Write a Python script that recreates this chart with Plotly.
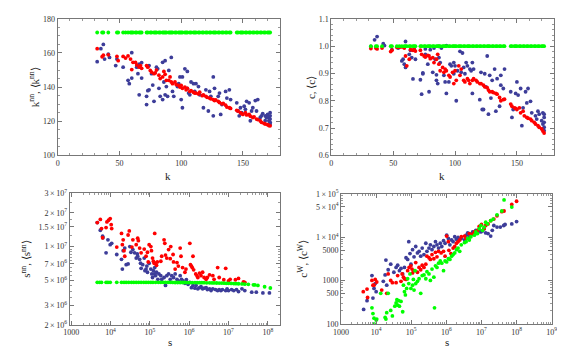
import plotly.graph_objects as go
import numpy as np

# distinct degrees (top panels)
K = [32, 36, 37, 41, 48, 49, 53, 55, 57, 59,
     60, 61, 63, 64, 66, 67, 68, 72, 73, 75,
     76, 78, 79, 80, 82, 83, 85, 86, 87, 88,
     90, 91, 92, 93, 95, 96, 98, 99, 100, 101,
     103, 104, 105, 107, 108, 110, 111, 112, 114, 115,
     117, 118, 120, 121, 123, 124, 126, 127, 128, 130,
     131, 133, 134, 136, 137, 139, 140, 145, 146, 148,
     149, 150, 152, 153, 155, 156, 158, 159, 161, 162,
     164, 165, 167, 168, 170, 171, 172]

KNN_AVG = [162.5, 157.8, 158.7, 158.9, 158.0, 155.5, 158.0, 157.0, 158.3, 156.4,
           150.3, 154.5, 154.5, 153.0, 151.7, 152.6, 151.0, 152.6, 151.7, 149.8,
           148.8, 147.9, 148.3, 150.0, 147.0, 145.0, 146.0, 149.2, 147.5, 144.0,
           144.0, 146.0, 143.0, 142.0, 143.0, 141.5, 141.0, 140.0, 141.0, 139.3,
           140.0, 138.4, 139.3, 137.5, 138.0, 137.0, 136.5, 136.5, 136.0, 137.0,
           135.0, 135.5, 134.6, 134.0, 133.6, 133.2, 132.7, 132.1, 132.5, 131.7,
           131.0, 130.2, 130.5, 129.4, 128.3, 127.9, 127.5, 126.4, 126.0, 125.0,
           124.5, 124.0, 125.0, 123.7, 124.0, 123.0, 122.2, 122.6, 121.3, 121.0,
           120.3, 119.4, 118.8, 118.4, 118.0, 117.5, 117.3]
KNN_RAND = 172.0

C_AVG = [0.991, 0.993, 0.990, 0.993, 0.980, 0.985, 0.996, 0.996, 0.997, 0.993,
         0.964, 0.928, 0.952, 0.987, 0.985, 0.987, 0.982, 0.985, 0.970, 0.964,
         0.960, 0.966, 0.964, 0.954, 0.958, 0.940, 0.952, 0.970, 0.934, 0.910,
         0.922, 0.904, 0.916, 0.910, 0.893, 0.887, 0.904, 0.863, 0.910, 0.875,
         0.928, 0.893, 0.916, 0.875, 0.869, 0.881, 0.875, 0.863, 0.875, 0.881,
         0.875, 0.869, 0.863, 0.863, 0.857, 0.851, 0.848, 0.839, 0.833, 0.833,
         0.830, 0.827, 0.824, 0.812, 0.800, 0.804, 0.806, 0.788, 0.780, 0.774,
         0.772, 0.768, 0.774, 0.756, 0.762, 0.745, 0.739, 0.736, 0.733, 0.727,
         0.721, 0.715, 0.709, 0.703, 0.697, 0.689, 0.682]
C_RAND = 1.0

# per-node values (k, knn)
KNN_NODES = [(32, 154.9), (35, 162.5), (37, 165.0), (38, 156.4), (41, 159.3), (42, 157.4),
             (47, 152.6), (48, 156.4), (53, 151.7), (57, 144.0), (58, 142.0), (60, 160.2),
             (60, 145.3), (64, 151.7), (65, 147.9), (66, 135.5), (66, 153.4), (68, 145.3),
             (68, 154.3), (72, 134.6), (72, 129.8), (73, 137.9), (74, 138.4), (74, 152.6),
             (76, 147.9), (77, 141.2), (78, 131.7), (80, 151.7), (81, 150.7), (82, 139.3),
             (83, 134.6), (85, 132.7), (85, 154.5), (86, 143.0), (87, 135.5), (87, 155.5),
             (88, 140.3), (89, 134.6), (90, 149.8), (92, 157.4), (93, 137.5), (94, 134.6),
             (97, 140.3), (98, 142.0), (99, 146.0), (100, 132.7), (101, 127.9), (101, 146.0),
             (103, 150.7), (105, 149.2), (105, 139.3), (106, 136.5), (107, 135.5), (108, 143.0),
             (110, 142.0), (111, 137.5), (112, 142.0), (114, 140.3), (115, 135.5), (118, 127.9),
             (120, 138.4), (122, 126.0), (123, 137.5), (124, 134.6), (126, 146.0), (126, 123.2),
             (127, 139.3), (130, 134.6), (131, 136.5), (132, 124.0), (133, 129.8), (136, 137.5),
             (137, 133.6), (139, 138.4), (140, 132.7), (145, 130.8), (146, 126.0), (147, 123.2),
             (148, 127.9), (149, 125.0), (151, 128.8), (152, 127.0), (153, 131.7), (155, 130.8),
             (156, 120.3), (157, 126.0), (158, 127.9), (160, 132.1), (161, 126.0), (162, 132.7),
             (164, 122.2), (165, 123.2), (166, 124.5), (168, 123.2), (168, 120.3), (169, 122.2),
             (170, 124.0), (171, 122.2), (172, 125.0), (172, 123.2), (172, 121.3), (172, 119.4),
             (172, 118.4), (171, 120.3)]

C_NODES = [(32, 0.999), (35, 1.023), (37, 1.035), (42, 1.009), (43, 1.002), (49, 0.987),
           (54, 0.993), (60, 1.017), (58, 0.952), (59, 0.934), (60, 0.922), (57, 0.946),
           (63, 0.970), (64, 0.985), (65, 0.958), (66, 0.880), (67, 0.990), (68, 0.952),
           (72, 0.877), (73, 0.824), (74, 0.899), (74, 0.902), (76, 0.970), (76, 0.990),
           (78, 0.934), (79, 0.833), (80, 0.987), (82, 0.904), (83, 0.993), (84, 0.952),
           (85, 0.895), (85, 0.875), (86, 0.863), (87, 0.999), (87, 0.958), (88, 0.940),
           (89, 0.993), (91, 0.893), (92, 0.869), (93, 0.827), (93, 1.002), (95, 0.869),
           (96, 0.934), (97, 0.928), (99, 0.940), (99, 0.899), (100, 0.928), (101, 0.800),
           (102, 0.910), (104, 0.981), (105, 0.904), (106, 0.975), (107, 0.922), (108, 0.899),
           (109, 0.940), (110, 0.928), (112, 0.916), (113, 0.910), (114, 0.827), (114, 0.940),
           (115, 0.916), (120, 0.804), (121, 0.904), (122, 0.768), (123, 0.768), (124, 0.899),
           (125, 0.851), (126, 0.964), (127, 0.751), (128, 0.893), (129, 0.810), (130, 0.875),
           (132, 0.916), (133, 0.762), (134, 0.881), (136, 0.780), (137, 0.893), (137, 0.857),
           (139, 0.845), (140, 0.916), (145, 0.833), (146, 0.739), (147, 0.768), (149, 0.827),
           (150, 0.869), (151, 0.821), (153, 0.845), (154, 0.709), (155, 0.774), (157, 0.833),
           (158, 0.792), (159, 0.845), (161, 0.798), (162, 0.756), (165, 0.745), (166, 0.733),
           (167, 0.762), (168, 0.751), (170, 0.727), (171, 0.756), (171, 0.715), (172, 0.739),
           (172, 0.703), (172, 0.691), (172, 0.721), (172, 0.751), (171, 0.697)]

# bottom-left: s vs s^nn
SNN_RAND = [(4.6e3, 4.8e6), (5.3e3, 4.8e6), (5.9e3, 4.8e6), (7.7e3, 4.8e6), (8.6e3, 4.8e6),
            (9.8e3, 4.8e6), (1.44e4, 4.8e6), (1.9e4, 4.8e6), (2.2e4, 4.8e6), (2.5e4, 4.8e6),
            (2.9e4, 4.8e6), (3.4e4, 4.8e6), (3.9e4, 4.8e6), (4.5e4, 4.8e6), (5.2e4, 4.8e6),
            (6.0e4, 4.8e6), (7.0e4, 4.8e6), (8.0e4, 4.8e6), (9.2e4, 4.8e6), (1.06e5, 4.8e6),
            (1.2e5, 4.8e6), (1.4e5, 4.8e6), (1.65e5, 4.8e6), (1.9e5, 4.8e6), (2.2e5, 4.8e6),
            (2.5e5, 4.8e6), (2.9e5, 4.8e6), (3.3e5, 4.8e6), (3.8e5, 4.79e6), (4.4e5, 4.78e6),
            (5.1e5, 4.78e6), (5.9e5, 4.78e6), (6.8e5, 4.78e6), (7.8e5, 4.78e6), (9.0e5, 4.77e6),
            (1.04e6, 4.77e6), (1.2e6, 4.77e6), (1.4e6, 4.77e6), (1.6e6, 4.76e6), (1.84e6, 4.76e6),
            (2.1e6, 4.76e6), (2.4e6, 4.76e6), (2.8e6, 4.75e6), (3.3e6, 4.75e6), (3.8e6, 4.74e6),
            (4.3e6, 4.74e6), (5.0e6, 4.73e6), (5.8e6, 4.72e6), (6.7e6, 4.72e6), (7.7e6, 4.71e6),
            (8.8e6, 4.7e6), (1.0e7, 4.7e6), (1.17e7, 4.69e6), (1.36e7, 4.68e6), (1.55e7, 4.67e6),
            (1.8e7, 4.66e6), (2.2e7, 4.64e6), (2.6e7, 4.62e6), (3.2e7, 4.6e6), (4.3e7, 4.56e6),
            (4.7e7, 4.55e6), (5.6e7, 4.5e6), (8.3e7, 4.38e6), (1.16e8, 4.27e6)]

SNN_AVG = [(4.6e3, 1.64e7), (5.5e3, 1.75e7), (5.9e3, 1.45e7), (6.3e3, 1.2e7), (7.7e3, 1.48e7),
           (8.1e3, 1.66e7), (8.9e3, 1.72e7), (9.8e3, 1.78e7), (1.07e4, 1.45e7), (1.04e4, 1.57e7),
           (1.44e4, 9.9e6), (1.9e4, 1.31e7), (2.0e4, 1.04e7), (2.1e4, 1.15e7), (2.2e4, 9.2e6),
           (2.3e4, 8.2e6), (2.8e4, 1.27e7), (3.0e4, 1.38e7), (3.5e4, 9.9e6), (3.7e4, 1.15e7),
           (4.5e4, 1.04e7), (4.9e4, 1.19e7), (5.1e4, 1.13e7), (5.5e4, 9.7e6), (6.0e4, 8.8e6),
           (7.2e4, 9.5e6), (8.0e4, 8.2e6), (8.7e4, 8.9e6), (9.1e4, 7.3e6), (9.6e4, 1.04e7),
           (1.06e5, 1.0e7), (1.1e5, 9.2e6), (1.17e5, 7.9e6), (1.23e5, 7.4e6), (1.29e5, 7.1e6),
           (1.33e5, 1.31e7), (1.4e5, 7.1e6), (1.48e5, 6.8e6), (1.55e5, 7.3e6), (1.9e5, 7.4e6),
           (2.0e5, 8.2e6), (2.3e5, 1.15e7), (2.4e5, 1.07e7), (2.5e5, 8.4e6), (2.7e5, 7.9e6),
           (3.0e5, 9.4e6), (3.3e5, 7.8e6), (3.4e5, 1.0e7), (3.9e5, 8.5e6), (4.0e5, 7.3e6),
           (4.4e5, 6.3e6), (4.9e5, 7.2e6), (5.3e5, 6.7e6), (5.9e5, 9.7e6), (6.2e5, 8.2e6),
           (6.8e5, 6.5e6), (7.8e5, 5.9e6), (8.3e5, 6.3e6), (1.04e6, 1.07e7), (1.08e6, 6.9e6),
           (1.14e6, 6.7e6), (1.2e6, 6.5e6), (1.25e6, 8.2e6), (1.3e6, 6.2e6), (1.47e6, 5.7e6),
           (1.58e6, 5.5e6), (1.66e6, 5.3e6), (1.84e6, 5.8e6), (2.0e6, 5.5e6), (2.2e6, 5.9e6),
           (2.4e6, 5.3e6), (2.7e6, 5.1e6), (2.9e6, 5.3e6), (3.3e6, 5.6e6), (4.0e6, 5.5e6),
           (4.3e6, 5.1e6), (5.3e6, 6.5e6), (5.8e6, 5.3e6), (8.5e6, 6.4e6), (7.6e6, 5.06e6),
           (1.0e7, 4.95e6), (1.1e7, 5.1e6), (1.5e7, 5.06e6), (1.8e7, 5.2e6), (2.4e7, 4.85e6),
           (2.6e7, 4.8e6)]

SNN_NODES = [(4.6e3, 1.64e7), (5.5e3, 1.40e7), (6.3e3, 1.24e7), (6.4e3, 1.2e7), (7.7e3, 8.8e6),
             (8.6e3, 1.15e7), (9.8e3, 1.04e7), (1.07e4, 1.07e7), (1.44e4, 8.5e6), (1.9e4, 7.7e6),
             (2.0e4, 6.3e6), (2.1e4, 9.2e6), (2.3e4, 9.7e6), (2.5e4, 6.9e6), (2.8e4, 7.0e6),
             (3.1e4, 1.0e7), (3.3e4, 8.9e6), (3.7e4, 9.4e6), (4.1e4, 8.8e6), (4.5e4, 7.9e6),
             (4.8e4, 8.6e6), (4.9e4, 8.2e6), (5.5e4, 7.7e6), (5.8e4, 7.1e6), (6.0e4, 6.4e6),
             (6.6e4, 6.9e6), (7.2e4, 7.9e6), (7.5e4, 6.1e6), (8.0e4, 6.3e6), (8.4e4, 6.7e6),
             (8.7e4, 5.9e6), (9.6e4, 7.1e6), (1.06e5, 6.3e6), (1.12e5, 5.7e6), (1.17e5, 5.3e6),
             (1.23e5, 6.1e6), (1.29e5, 5.7e6), (1.33e5, 6.5e6), (1.4e5, 5.5e6), (1.48e5, 5.9e6),
             (1.6e5, 5.1e6), (1.7e5, 5.7e6), (1.9e5, 5.5e6), (2.0e5, 5.1e6), (2.3e5, 5.3e6),
             (2.5e5, 4.5e6), (2.7e5, 5.5e6), (3.0e5, 5.7e6), (3.3e5, 5.1e6), (3.6e5, 5.5e6),
             (4.0e5, 5.3e6), (4.4e5, 5.7e6), (4.9e5, 5.1e6), (5.3e5, 4.95e6), (5.9e5, 5.5e6),
             (6.4e5, 5.1e6), (7.0e5, 4.95e6), (7.8e5, 4.7e6), (8.5e5, 5.06e6), (9.4e5, 4.6e6),
             (1.04e6, 4.8e6), (1.14e6, 4.3e6), (1.25e6, 4.5e6), (1.4e6, 4.25e6), (1.5e6, 4.5e6),
             (1.66e6, 4.2e6), (1.84e6, 4.3e6), (2.0e6, 4.4e6), (2.2e6, 4.2e6), (2.4e6, 4.25e6),
             (2.7e6, 4.3e6), (2.9e6, 4.13e6), (3.3e6, 4.2e6), (3.6e6, 4.05e6), (4.0e6, 4.2e6),
             (4.7e6, 4.13e6), (5.3e6, 4.05e6), (5.8e6, 4.13e6), (6.4e6, 4.05e6), (7.0e6, 4.13e6),
             (8.5e6, 4.05e6), (9.2e6, 4.2e6), (1.0e7, 4.05e6), (1.2e7, 4.13e6), (1.36e7, 4.05e6),
             (1.6e7, 4.13e6), (1.8e7, 3.97e6), (2.2e7, 4.2e6), (2.6e7, 4.05e6), (3.9e7, 3.92e6),
             (5.1e7, 3.92e6), (7.5e7, 3.86e6), (1.1e8, 3.86e6)]

# bottom-right: s vs c^W
CW_NODES = [(4.4e3, 216), (7.6e3, 1306), (8.7e3, 657), (9.4e3, 851), (1.0e4, 555), (8.1e3, 394),
            (5.5e3, 343), (1.6e4, 960), (1.8e4, 1352), (1.9e4, 2976), (2.0e4, 781), (2.2e4, 1778),
            (2.6e4, 2382), (3.2e4, 1553), (3.7e4, 2005), (4.1e4, 2258), (4.6e4, 1692), (5.1e4, 1905),
            (5.7e4, 1422), (6.4e4, 2005), (7.1e4, 3357), (7.9e4, 3076), (8.5e4, 7906), (9.2e4, 4191),
            (9.8e4, 2382), (1.09e5, 5150), (1.2e5, 3532), (1.34e5, 6106), (1.5e5, 4339), (1.67e5, 4732),
            (1.86e5, 3656), (2.05e5, 5610), (2.3e5, 3981), (2.6e5, 7263), (2.8e5, 4732), (3.2e5, 5610),
            (3.5e5, 6668), (3.9e5, 5150), (4.4e5, 6106), (4.9e5, 7906), (5.4e5, 6668), (6.0e5, 5610),
            (6.7e5, 7263), (7.4e5, 6106), (8.3e5, 8318), (9.2e5, 7263), (1.02e6, 11143), (1.14e6, 9376),
            (1.26e6, 6668), (1.41e6, 8610), (1.56e6, 7906), (1.73e6, 10233), (1.94e6, 8913),
            (2.15e6, 9886), (2.66e6, 9376), (3.3e6, 8610), (3.65e6, 11143), (4.05e6, 12566),
            (4.5e6, 10233), (5.0e6, 11722), (5.6e6, 13213), (6.3e6, 12131), (6.9e6, 14421),
            (7.7e6, 12566), (8.6e6, 14894), (9.6e6, 13213), (1.07e7, 13930), (1.19e7, 15703),
            (1.32e7, 12566), (1.54e7, 12131), (1.83e7, 10593), (2.03e7, 14421), (2.25e7, 18621),
            (2.77e7, 17100), (3.44e7, 17100), (4.3e7, 18621), (4.7e7, 19634), (7.3e7, 20270),
            (1.0e8, 22900)]

CW_AVG = [(4.3e3, 555), (5.5e3, 635), (5.7e3, 407), (7.6e3, 1009), (8.1e3, 781), (8.7e3, 781),
          (9.4e3, 1064), (1.04e4, 927), (1.44e4, 604), (2.0e4, 509), (2.2e4, 1422), (2.6e4, 1009),
          (2.9e4, 896), (3.7e4, 896), (4.1e4, 1306), (5.1e4, 960), (5.5e4, 1422), (6.0e4, 1199),
          (6.4e4, 1102), (7.1e4, 1064), (7.9e4, 1692), (8.7e4, 2005), (9.8e4, 2188), (1.05e5, 1841),
          (1.09e5, 1500), (1.2e5, 1692), (1.34e5, 2594), (1.5e5, 1553), (1.67e5, 2005), (1.86e5, 1778),
          (2.05e5, 2258), (2.3e5, 2005), (2.6e5, 2382), (2.8e5, 3656), (3.2e5, 3357), (3.5e5, 3076),
          (3.9e5, 3981), (4.4e5, 3184), (4.9e5, 4487), (5.4e5, 3532), (6.0e5, 4732), (7.1e5, 4339),
          (8.3e5, 4732), (9.2e5, 3656), (1.02e6, 10593), (1.14e6, 7906), (1.18e6, 4977),
          (1.35e6, 4191), (1.56e6, 5610), (1.73e6, 6106), (1.94e6, 7263), (2.15e6, 7906),
          (2.4e6, 8610), (2.66e6, 10233), (3.3e6, 10593), (3.65e6, 9376), (4.5e6, 12131),
          (5.6e6, 11722), (6.3e6, 13213), (7.7e6, 14421), (8.6e6, 17700), (1.0e7, 19634),
          (1.19e7, 15703), (1.32e7, 18621), (1.54e7, 20270), (1.83e7, 24100), (2.25e7, 26240),
          (2.77e7, 31200), (3.8e7, 38900), (4.4e7, 40270), (7.3e7, 56800), (1.0e8, 67500)]

CW_RAND = [(7.6e3, 235), (8.1e3, 173), (8.7e3, 136), (8.8e3, 100), (1.0e4, 123), (1.04e4, 129),
           (1.35e4, 509), (1.8e4, 141), (1.9e4, 129), (2.0e4, 182), (2.2e4, 509), (2.6e4, 205),
           (2.9e4, 153), (3.4e4, 256), (3.7e4, 304), (3.9e4, 361), (4.1e4, 270), (4.4e4, 343),
           (4.6e4, 256), (5.1e4, 331), (5.7e4, 191), (6.0e4, 781), (6.4e4, 555), (6.8e4, 467),
           (7.4e4, 657), (7.9e4, 1102), (8.5e4, 851), (9.2e4, 1422), (9.8e4, 657), (1.09e5, 781),
           (1.15e5, 1064), (1.2e5, 604), (1.29e5, 1692), (1.34e5, 851), (1.5e5, 960), (1.67e5, 1102),
           (1.86e5, 509), (2.05e5, 1306), (2.3e5, 1352), (2.6e5, 1102), (2.8e5, 1607), (3.2e5, 1422),
           (3.5e5, 1009), (3.9e5, 1841), (4.4e5, 1199), (4.6e5, 235), (4.9e5, 2188), (5.4e5, 2005),
           (6.0e5, 2512), (6.7e5, 2825), (7.4e5, 2512), (8.3e5, 1692), (9.2e5, 2825), (1.02e6, 2685),
           (1.14e6, 3184), (1.26e6, 3076), (1.41e6, 3656), (1.56e6, 3981), (1.73e6, 4335),
           (1.94e6, 5150), (2.15e6, 5610), (2.4e6, 4732), (2.66e6, 6668), (3.3e6, 7516),
           (3.65e6, 7906), (4.05e6, 9376), (4.5e6, 8610), (5.0e6, 10233), (6.3e6, 11143),
           (6.9e6, 13213), (7.7e6, 12131), (8.6e6, 15703), (9.6e6, 18621), (1.07e7, 14421),
           (1.19e7, 17100), (1.32e7, 22130), (1.48e7, 20270), (1.83e7, 24100), (2.15e7, 26240),
           (2.77e7, 32810), (3.8e7, 40270), (4.4e7, 72300), (7.3e7, 49500)]

BLUE = 'rgb(61,61,153)'
RED = 'rgb(255,0,0)'
GREEN = 'rgb(0,255,0)'
FONT = 'Liberation Serif'
W, H = 565, 349


def pts(pairs):
    return [p[0] for p in pairs], [p[1] for p in pairs]


def dom(a, b, total, flip=False):
    if flip:
        return [1 - b / total, 1 - a / total]
    return [a / total, b / total]


def sup(m, e):
    return '%s\u2009\u00d7\u200910<sup>%d</sup>' % (m, e)


fig = go.Figure()


def add(x, y, color, xa, ya):
    fig.add_trace(go.Scatter(x=x, y=y, mode='markers', xaxis=xa, yaxis=ya,
                             marker=dict(color=color, size=3.8, line=dict(width=0)),
                             hoverinfo='skip', showlegend=False))


# top left
add(*pts(KNN_NODES), BLUE, 'x', 'y')
add(K, KNN_AVG, RED, 'x', 'y')
add(K, [KNN_RAND] * len(K), GREEN, 'x', 'y')
# top right
add(*pts(C_NODES), BLUE, 'x2', 'y2')
add(K, C_AVG, RED, 'x2', 'y2')
add(K, [C_RAND] * len(K), GREEN, 'x2', 'y2')
# bottom left
add(*pts(SNN_NODES), BLUE, 'x3', 'y3')
add(*pts(SNN_AVG), RED, 'x3', 'y3')
add(*pts(SNN_RAND), GREEN, 'x3', 'y3')
# bottom right
add(*pts(CW_NODES), BLUE, 'x4', 'y4')
add(*pts(CW_AVG), RED, 'x4', 'y4')
add(*pts(CW_RAND), GREEN, 'x4', 'y4')

base = dict(showline=True, linecolor='#777', linewidth=1, mirror='allticks',
            ticks='inside', ticklen=4, tickcolor='#777', showgrid=False, zeroline=False,
            tickfont=dict(family=FONT, size=8, color='#333'),
            minor=dict(ticks='inside', ticklen=2, tickcolor='#999', showgrid=False))


def ax(**kw):
    d = dict(base)
    mn = dict(base['minor'])
    mn.update(kw.pop('minor', {}))
    d['minor'] = mn
    d.update(kw)
    return d


def decades(a, b):
    return [m * 10 ** e for e in range(a, b) for m in range(2, 10)]


fig.update_layout(
    width=W, height=H, margin=dict(l=0, r=0, t=0, b=0),
    plot_bgcolor='white', paper_bgcolor='white',
    xaxis=ax(domain=dom(42.7, 270.7, W), range=[0, 180], anchor='y',
             tickvals=[0, 50, 100, 150], minor=dict(dtick=10)),
    yaxis=ax(domain=dom(5, 146, H, True), range=[100, 180], anchor='x',
             tickvals=[100, 120, 140, 160, 180], minor=dict(dtick=5)),
    xaxis2=ax(domain=dom(323.3, 551.7, W), range=[0, 180], anchor='y2',
              tickvals=[0, 50, 100, 150], minor=dict(dtick=10)),
    yaxis2=ax(domain=dom(5, 146, H, True), range=[0.6, 1.1], anchor='x2',
              tickvals=[0.6, 0.7, 0.8, 0.9, 1.0, 1.1],
              ticktext=['0.6', '0.7', '0.8', '0.9', '1.0', '1.1'], minor=dict(dtick=0.02)),
    xaxis3=ax(domain=dom(55, 270.7, W), type='log', range=[2.96, 8.31], anchor='y3',
              tickvals=[1e3, 1e4, 1e5, 1e6, 1e7, 1e8],
              ticktext=['1000'] + ['10<sup>%d</sup>' % e for e in range(4, 9)],
              minor=dict(tickmode='array', tickvals=decades(3, 9))),
    yaxis3=ax(domain=dom(185, 321, H, True), type='log',
              range=[np.log10(2e6), np.log10(3e7)], anchor='x3',
              tickvals=[2e6, 3e6, 5e6, 7e6, 1e7, 1.5e7, 2e7, 3e7],
              ticktext=[sup(2, 6), sup(3, 6), sup(5, 6), sup(7, 6), sup(1, 7),
                        sup('1.5', 7), sup(2, 7), sup(3, 7)],
              minor=dict(tickmode='array',
                         tickvals=[2.5e6, 3.5e6, 4e6, 4.5e6, 5.5e6, 6e6, 6.5e6, 7.5e6, 8e6,
                                   8.5e6, 9e6, 9.5e6, 1.25e7, 1.75e7, 2.5e7])),
    xaxis4=ax(domain=dom(333.3, 549.3, W), type='log', range=[3, 9], anchor='y4',
              tickvals=[1e3, 1e4, 1e5, 1e6, 1e7, 1e8, 1e9],
              ticktext=['1000'] + ['10<sup>%d</sup>' % e for e in range(4, 10)],
              minor=dict(tickmode='array', tickvals=decades(3, 9))),
    yaxis4=ax(domain=dom(185.7, 320, H, True), type='log', range=[2, 5], anchor='x4',
              tickvals=[100, 500, 1000, 5000, 1e4, 5e4, 1e5],
              ticktext=['100', '500', '1000', '5000', sup(1, 4), sup(5, 4), sup(1, 5)],
              minor=dict(tickmode='array', tickvals=decades(2, 5))),
)

titles = [
    ('k<sup>nn</sup>, \u27e8k<sup>nn</sup>\u27e9', 18, 76, -90),
    ('c, \u27e8c\u27e9', 302, 76, -90),
    ('s<sup>nn</sup>, \u27e8s<sup>nn</sup>\u27e9', 10, 253, -90),
    ('c<sup>W</sup>, \u27e8c<sup>W</sup>\u27e9', 294, 253, -90),
    ('k', 156, 167, 0),
    ('k', 437, 167, 0),
    ('s', 158, 339, 0),
    ('s', 442, 339, 0),
]
for text, px, py, ang in titles:
    fig.add_annotation(text=text, x=px / W, y=1 - py / H, xref='paper', yref='paper',
                       showarrow=False, textangle=ang, xanchor='center', yanchor='middle',
                       font=dict(family=FONT, size=11, color='#222'))

fig.write_html("out.html")
